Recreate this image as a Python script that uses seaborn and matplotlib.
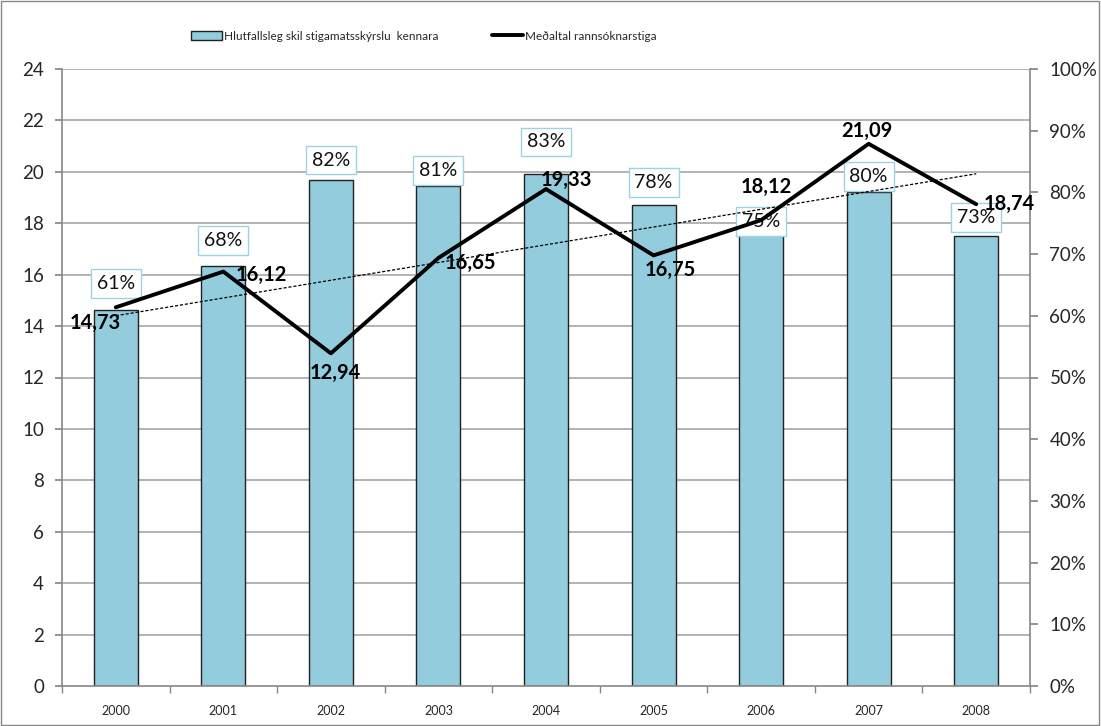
import matplotlib
matplotlib.use("Agg")
import matplotlib.pyplot as plt
import seaborn as sns
import numpy as np
import pandas as pd
from matplotlib.patches import Rectangle
from matplotlib.lines import Line2D

years = ["2000", "2001", "2002", "2003", "2004", "2005", "2006", "2007", "2008"]
share_pct = [61, 68, 82, 81, 83, 78, 75, 80, 73]
avg_level = [14.73, 16.12, 12.94, 16.65, 19.33, 16.75, 18.12, 21.09, 18.74]
left_ticks = [0, 2, 4, 6, 8, 10, 12, 14, 16, 18, 20, 22, 24]
right_ticks = [0, 10, 20, 30, 40, 50, 60, 70, 80, 90, 100]
bar_label = "Hlutfallsleg skil stigamatsskýrslu  kennara"
line_label = "Meðaltal rannsóknarstiga"

sns.set_theme(style="white")
plt.rcParams["font.family"] = ["Lato", "DejaVu Sans"]

df = pd.DataFrame({"pos": np.arange(len(years)), "year": years,
                   "share": share_pct, "avg": avg_level})

fig = plt.figure(figsize=(11.01, 7.26), dpi=100)
ax = fig.add_axes([62/1101, 40/726, (1030-62)/1101, (686-69)/726])
ax2 = ax.twinx()
bar_color = "#93cddd"
grid_c = "#a6a6a6"
spine_c = "#868686"

# gridlines aligned with left-axis ticks, drawn behind bars
for v in left_ticks[1:]:
    ax.axhline(v*100/24, color=grid_c, lw=1.2, zorder=0)

sns.barplot(data=df, x="pos", y="share", color=bar_color, width=0.41,
            edgecolor="#222222", linewidth=1.0, saturation=1, ax=ax, zorder=2)
ax.set_ylim(0, 100)
ax.set_xlim(-0.5, len(years)-0.5)
ax.set_xticks(np.arange(len(years)))
ax.set_xticklabels(years, fontsize=9)
ax.set_xlabel("")
ax.set_ylabel("")
ax.tick_params(axis="x", length=0, pad=14)
ax.set_xticks(np.arange(-0.5, len(years)), minor=True)
ax.tick_params(axis="x", which="minor", bottom=True, length=5, color=spine_c)
ax.spines["top"].set_visible(False)
for s in ["left", "right", "bottom"]:
    ax.spines[s].set_color(spine_c)
    ax.spines[s].set_linewidth(1.2)

label_off = [26, 26, 20, 16, 32, 22, 2, 16, 18]
for i, v in enumerate(share_pct):
    ax.annotate(f"{v}%", (i, v), xytext=(0, label_off[i]), textcoords="offset pixels",
                ha="center", va="center", fontsize=14, color="#111111", zorder=3,
                bbox=dict(boxstyle="square,pad=0.3", fc="white", ec="#9ed3e3", lw=1.0))

sns.lineplot(data=df, x="pos", y="avg", color="black", lw=2.8, ax=ax2, zorder=5)
sns.regplot(data=df, x="pos", y="avg", scatter=False, ci=None, truncate=True,
            line_kws=dict(color="black", lw=0.9, ls=(0, (2.5, 1.5))), ax=ax2)
ax2.set_ylim(0, 24)
ax2.set_xlim(-0.5, len(years)-0.5)
ax2.set_ylabel("")
ax2.set_xlabel("")
for s in ax2.spines.values():
    s.set_visible(False)

# axis sides: percent on right (bars), level on left (line)
ax.yaxis.tick_right()
ax.set_yticks(right_ticks)
ax.set_yticklabels([f"{t}%" for t in right_ticks], fontsize=13.5)
ax.tick_params(axis="y", left=False, right=True, labelleft=False, labelright=True,
               length=6, color=spine_c, pad=8)
ax2.yaxis.tick_left()
ax2.set_yticks(left_ticks)
ax2.set_yticklabels([str(t) for t in left_ticks], fontsize=13.5)
ax2.tick_params(axis="y", left=True, right=False, labelleft=True, labelright=False,
                length=5, color=spine_c, pad=8)

val_off = [(-20, -16), (38, -3), (4, -20), (32, -5), (20, 9), (17, -15), (5, 33), (-2, 13), (33, 0)]
for i, v in enumerate(avg_level):
    ax2.annotate(f"{v:.2f}".replace(".", ","), (i, v), xytext=val_off[i],
                 textcoords="offset pixels", ha="center", va="center",
                 fontsize=14.5, fontweight="bold", color="black", zorder=6)

# legend
handles = [Rectangle((0, 0), 1, 1, fc=bar_color, ec="#222222", lw=1.0),
           Line2D([0], [0], color="black", lw=2.8)]
fig.legend(handles, [bar_label, line_label], loc="center", bbox_to_anchor=(0.385, 0.95),
           ncol=2, frameon=False, fontsize=8.5, handlelength=2.6, handleheight=0.8,
           handletextpad=0.2, columnspacing=4.5)

fig.patches.append(Rectangle((0.001, 0.001), 0.997, 0.997, transform=fig.transFigure,
                             fill=False, ec="#868686", lw=1))

fig.savefig("out.png", dpi=100)
